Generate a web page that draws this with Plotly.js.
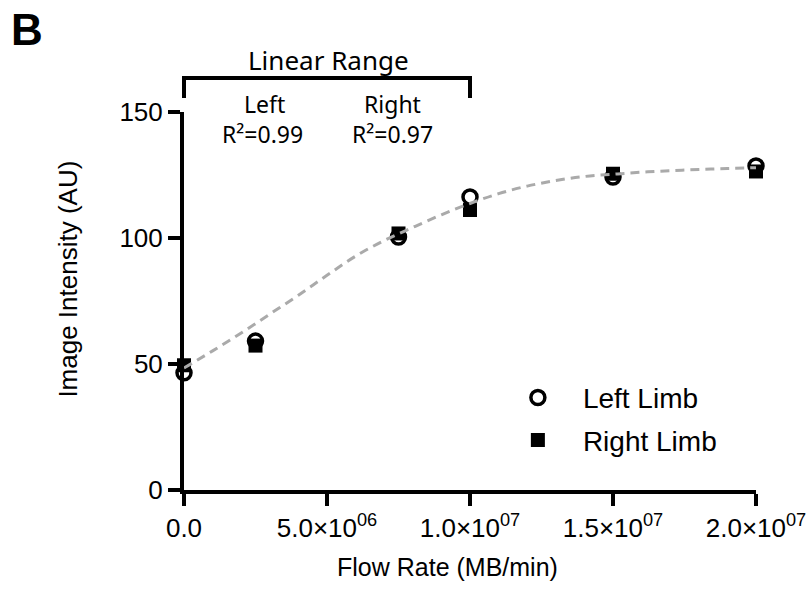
<!DOCTYPE html>
<html>
<head>
<meta charset="utf-8">
<script src="https://cdn.plot.ly/plotly-3.0.1.min.js"></script>
<style>html,body{margin:0;padding:0;background:#fff;}#chart{width:812px;height:591px;}</style>
</head>
<body>
<div id="chart"></div>
<script>
// Data
const flowRates = [0, 2.5e6, 7.5e6, 1.0e7, 1.5e7, 2.0e7];
const leftLimb  = [46.5, 59.1, 100.4, 116.3, 124.2, 128.6];
const rightLimb = [49.5, 57.3, 101.8, 111.1, 125.5, 126.4];
// Dashed fit curve
const fitX = [0, 1e6, 2e6, 3e6, 4e6, 5e6, 6e6, 7e6, 8e6, 9e6, 1e7, 1.1e7, 1.2e7, 1.3e7, 1.4e7, 1.5e7, 1.6e7, 1.7e7, 1.8e7, 1.9e7, 2e7];
const fitY = [48.4, 55.2, 62.3, 69.8, 77.3, 85.2, 92.8, 99.0, 104.2, 109.2, 113.7, 117.6, 120.6, 122.8, 124.4, 125.3, 126.1, 126.7, 127.2, 127.6, 127.9];
const xTickVals = [0, 5e6, 1e7, 1.5e7, 2e7];
const xTickMant = ['0.0', '5.0', '1.0', '1.5', '2.0'];
const xTickExp  = ['', '06', '07', '07', '07'];
const yTickVals = [0, 50, 100, 150];

const xTickText = xTickMant.map((m, i) => xTickExp[i] ?
  m + '×10<sup style="font-size:20px">' + xTickExp[i] + '</sup>' : m);

const traces = [
  {x: flowRates, y: leftLimb, name: 'Left Limb', type: 'scatter', mode: 'markers', cliponaxis: false,
   legendgroup: 'a',
   marker: {symbol: 'circle-open', size: 14, color: '#000', line: {width: 3.5, color: '#000'}}},
  {x: flowRates, y: rightLimb, name: 'Right Limb', type: 'scatter', mode: 'markers', cliponaxis: false,
   legendgroup: 'b',
   marker: {symbol: 'square', size: 14, color: '#000'}},
  {x: fitX, y: fitY, type: 'scatter', mode: 'lines', showlegend: false, cliponaxis: false,
   line: {color: '#aaaaaa', width: 3, dash: '9px,6px', shape: 'spline'}}
];

const F = 'Liberation Sans, Arial, sans-serif';
const C = 'Noto Sans, Open Sans, sans-serif';
const layout = {
  width: 812, height: 591,
  margin: {l: 184, r: 56, t: 112, b: 101},
  paper_bgcolor: '#fff', plot_bgcolor: '#fff',
  font: {family: F, color: '#000', size: 26},
  xaxis: {
    range: [0, 2e7], showgrid: false, zeroline: false,
    showline: true, linewidth: 4, linecolor: '#000',
    ticks: 'outside', ticklen: 12, tickwidth: 4, tickcolor: '#000',
    tickvals: xTickVals, ticktext: xTickText,
    tickfont: {family: F, size: 26}
  },
  yaxis: {
    range: [0, 150], showgrid: false, zeroline: false,
    showline: true, linewidth: 4, linecolor: '#000',
    ticks: 'outside', ticklen: 12, tickwidth: 4, tickcolor: '#000',
    tickvals: yTickVals,
    tickfont: {family: F, size: 26}
  },
  legend: {
    x: 0.54, y: 0.31, xanchor: 'left', yanchor: 'top',
    font: {family: F, size: 28}, bgcolor: 'rgba(0,0,0,0)',
    itemwidth: 80, traceorder: 'grouped', tracegroupgap: 3
  },
  showlegend: true,
  shapes: [
    {type: 'path', xref: 'paper', yref: 'paper',
     path: 'M 0,1.037 L 0,1.09 L 0.5,1.09 L 0.5,1.037',
     line: {color: '#000', width: 4}}
  ],
  annotations: [
    {text: 'Flow Rate (MB/min)', xref: 'paper', yref: 'paper', x: 0.264, y: -0.2037, xanchor: 'left', yanchor: 'middle',
     showarrow: false, font: {family: F, size: 25}},
    {text: 'Image Intensity (AU)', xref: 'paper', yref: 'paper', x: -0.2028, y: 0.878, xanchor: 'center', yanchor: 'top',
     textangle: -90, showarrow: false, font: {family: F, size: 26}},
    {text: '<b>B</b>', xref: 'paper', yref: 'paper', x: -0.2745, y: 1.217, xanchor: 'center', yanchor: 'middle',
     showarrow: false, font: {family: F, size: 44}},
    {text: 'Linear Range', xref: 'paper', yref: 'paper', x: 0.253, y: 1.1376, xanchor: 'center', yanchor: 'middle',
     showarrow: false, font: {family: C, size: 26}},
    {text: 'Left', xref: 'paper', yref: 'paper', x: 0.1416, y: 1.021, xanchor: 'center', yanchor: 'middle',
     showarrow: false, font: {family: C, size: 23}},
    {text: 'R²=0.99', xref: 'paper', yref: 'paper', x: 0.138, y: 0.942, xanchor: 'center', yanchor: 'middle',
     showarrow: false, font: {family: C, size: 23}},
    {text: 'Right', xref: 'paper', yref: 'paper', x: 0.364, y: 1.021, xanchor: 'center', yanchor: 'middle',
     showarrow: false, font: {family: C, size: 23}},
    {text: 'R²=0.97', xref: 'paper', yref: 'paper', x: 0.365, y: 0.942, xanchor: 'center', yanchor: 'middle',
     showarrow: false, font: {family: C, size: 23}}
  ]
};

Plotly.newPlot('chart', traces, layout, {displayModeBar: false, staticPlot: true});
</script>
</body>
</html>
